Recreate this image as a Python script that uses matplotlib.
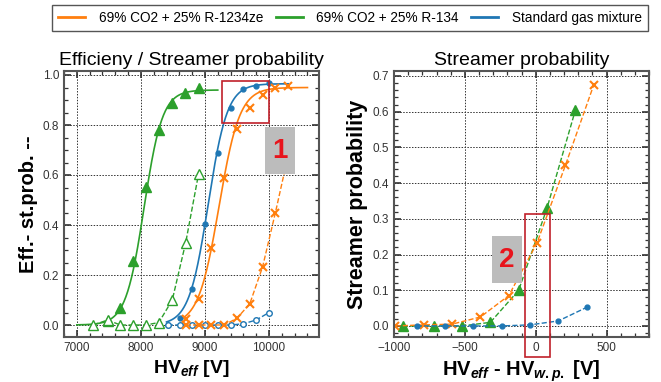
import numpy as np
import matplotlib
matplotlib.use("Agg")
import matplotlib.pyplot as plt
from matplotlib.patches import Rectangle
from matplotlib.lines import Line2D
from matplotlib.ticker import MultipleLocator

plt.rcParams['font.family'] = ['Liberation Sans', 'DejaVu Sans']
plt.rcParams['mathtext.fontset'] = 'custom'
plt.rcParams['mathtext.rm'] = 'Liberation Sans:bold'
plt.rcParams['mathtext.it'] = 'Liberation Sans:bold:italic'
plt.rcParams['mathtext.bf'] = 'Liberation Sans:bold'

C_OR = '#ff7f0e'
C_GR = '#2ca02c'
C_BL = '#1f77b4'

labels = ['69% CO2 + 25% R-1234ze', '69% CO2 + 25% R-134', 'Standard gas mixture']

# ---- left panel: efficiency (filled markers) ----
hv_gr_eff = [7480, 7680, 7880, 8080, 8290, 8490, 8690, 8900]
eff_gr = [0.015, 0.068, 0.256, 0.552, 0.780, 0.888, 0.928, 0.948]
hv_bl_eff = [8420, 8610, 8800, 9000, 9200, 9400, 9600, 9800, 10000]
eff_bl = [0.0, 0.03, 0.145, 0.405, 0.688, 0.868, 0.944, 0.956, 0.968]
hv_or_eff = [8700, 8900, 9100, 9300, 9500, 9700, 9900, 10100, 10300]
eff_or = [0.025, 0.105, 0.31, 0.588, 0.785, 0.868, 0.92, 0.948, 0.956]

# ---- left panel: streamer probability (open markers) ----
hv_gr_st = [7260, 7480, 7680, 7880, 8080, 8280, 8490, 8700, 8900]
st_gr = [0.0, 0.02, 0.0, 0.0, 0.0, 0.01, 0.10, 0.33, 0.604]
hv_bl_st = [8420, 8610, 8800, 9000, 9200, 9400, 9600, 9800, 10000]
st_bl = [0.0, 0.0, 0.0, 0.0, 0.0, 0.0, 0.005, 0.02, 0.05]
hv_or_st = [8700, 8900, 9100, 9300, 9500, 9700, 9900, 10100, 10300]
st_or = [0.0, 0.0, 0.0, 0.0, 0.027, 0.085, 0.233, 0.45, 0.68]

# ---- sigmoid fit parameters: plateau, slope, HV50, start, end ----
fit_gr = [0.94, 0.0070, 8050, 7000, 9200]
fit_bl = [0.965, 0.0067, 9050, 8400, 10300]
fit_or = [0.95, 0.0062, 9220, 8600, 10600]

# ---- right panel: streamer probability vs HV - HV_wp ----
dv_gr = [-940, -720, -520, -320, -120, 80, 280]
sp_gr = [0.0, 0.0, 0.0, 0.01, 0.10, 0.33, 0.604]
dv_or = [-990, -790, -590, -390, -190, 10, 210, 410]
sp_or = [0.0, 0.003, 0.005, 0.025, 0.085, 0.233, 0.45, 0.675]
dv_bl = [-840, -640, -440, -240, -40, 160, 360]
sp_bl = [0.0, 0.0, 0.0, 0.0, 0.003, 0.014, 0.052]

fig = plt.figure(figsize=(6.61, 3.82), dpi=100)
W, H = 661, 382
axL = fig.add_axes([64 / W, 1 - 337 / H, 255 / W, 266 / H])
axR = fig.add_axes([394 / W, 1 - 337 / H, 255 / W, 266 / H])

def style(ax):
    for s in ax.spines.values():
        s.set_color('#555555')
        s.set_linewidth(1.5)
    ax.tick_params(which='both', direction='in', top=True, right=True,
                   labelsize=8.5, colors='#333333', labelcolor='#333333')
    ax.tick_params(which='major', length=5, width=1.2)
    ax.tick_params(which='minor', length=3, width=0.9)
    ax.grid(True, which='major', linestyle=(0, (1.5, 1.5)), color='#333333', linewidth=0.7)
    ax.set_axisbelow(True)

def sig(p):
    A, k, x0, a, b = p
    x = np.linspace(a, b, 300)
    return x, A / (1 + np.exp(-k * (x - x0)))

# left
for p, c in [(fit_gr, C_GR), (fit_bl, C_BL), (fit_or, C_OR)]:
    x, y = sig(p)
    axL.plot(x, y, color=c, lw=1.2)
axL.plot(hv_gr_eff, eff_gr, ls='none', marker='^', ms=6.5, color=C_GR)
axL.plot(hv_bl_eff, eff_bl, ls='none', marker='o', ms=3.5, color=C_BL)
axL.plot(hv_or_eff, eff_or, ls='none', marker='x', ms=6, mew=1.5, color=C_OR)
axL.plot(hv_gr_st, st_gr, ls='--', lw=1.0, marker='^', ms=6.5, mfc='white', mew=1.0, color=C_GR)
axL.plot(hv_bl_st, st_bl, ls='--', lw=1.0, marker='o', ms=4, mfc='white', mew=1.0, color=C_BL)
axL.plot(hv_or_st, st_or, ls='--', lw=1.0, marker='x', ms=6, mew=1.5, color=C_OR)
axL.set_xlim(6800, 10780)
axL.set_ylim(-0.048, 1.016)
axL.xaxis.set_major_locator(MultipleLocator(1000))
axL.xaxis.set_minor_locator(MultipleLocator(200))
axL.yaxis.set_major_locator(MultipleLocator(0.2))
axL.yaxis.set_minor_locator(MultipleLocator(0.05))
axL.yaxis.set_major_formatter(matplotlib.ticker.FormatStrFormatter('%.1f'))
style(axL)
axL.set_title('Efficieny / Streamer probability', fontsize=14, pad=4)
axL.set_xlabel(r'HV$_{eff}$ [V]', fontsize=14, fontweight='bold', labelpad=3)
axL.set_ylabel('Eff.- st.prob. --', fontsize=14.5, fontweight='bold', labelpad=3)
axL.add_patch(Rectangle((9270, 0.808), 730, 0.168, fill=False, ec='#c0202a', lw=1.2, zorder=5))
axL.add_patch(Rectangle((9937, 0.604), 469, 0.188, fc='#bcbcbc', ec='none', zorder=6))
axL.text(10171, 0.698, '1', color='#e8141c', fontsize=20, fontweight='bold',
         ha='center', va='center', zorder=7)

# right
axR.plot(dv_gr, sp_gr, ls='--', lw=1.0, marker='^', ms=6.5, color=C_GR)
axR.plot(dv_or, sp_or, ls='--', lw=1.0, marker='x', ms=6, mew=1.5, color=C_OR)
axR.plot(dv_bl, sp_bl, ls='--', lw=1.0, marker='o', ms=3.5, color=C_BL)
axR.set_xlim(-1000, 800)
axR.set_ylim(-0.031, 0.714)
axR.xaxis.set_major_locator(MultipleLocator(500))
axR.xaxis.set_minor_locator(MultipleLocator(100))
axR.yaxis.set_major_locator(MultipleLocator(0.1))
axR.yaxis.set_minor_locator(MultipleLocator(0.02))
axR.yaxis.set_major_formatter(matplotlib.ticker.FormatStrFormatter('%.1f'))
style(axR)
axR.set_title('Streamer probability', fontsize=14, pad=4)
axR.set_xlabel(r'HV$_{eff}$ - HV$_{w.p.}$ [V]', fontsize=14.5, fontweight='bold', labelpad=3)
axR.set_ylabel('Streamer probability', fontsize=15.5, fontweight='bold', labelpad=3)
axR.add_patch(Rectangle((-78, -0.087), 177, 0.40, fill=False, ec='#c0202a', lw=1.2,
                        zorder=5, clip_on=False))
axR.add_patch(Rectangle((-305, 0.12), 206, 0.132, fc='#bcbcbc', ec='none', zorder=6))
axR.text(-202, 0.186, '2', color='#e8141c', fontsize=20, fontweight='bold',
         ha='center', va='center', zorder=7)

handles = [Line2D([], [], color=c, lw=2) for c in (C_OR, C_GR, C_BL)]
leg = fig.legend(handles, labels, ncol=3, loc='upper left',
                 bbox_to_anchor=(52 / W, 1 - 5 / H), fontsize=9.8,
                 fancybox=False, edgecolor='#555555', framealpha=1,
                 handlelength=2.0, handletextpad=1.0, columnspacing=0.9,
                 borderpad=0.45, borderaxespad=0)
leg.get_frame().set_linewidth(1.0)

fig.savefig('out.png', dpi=100)
